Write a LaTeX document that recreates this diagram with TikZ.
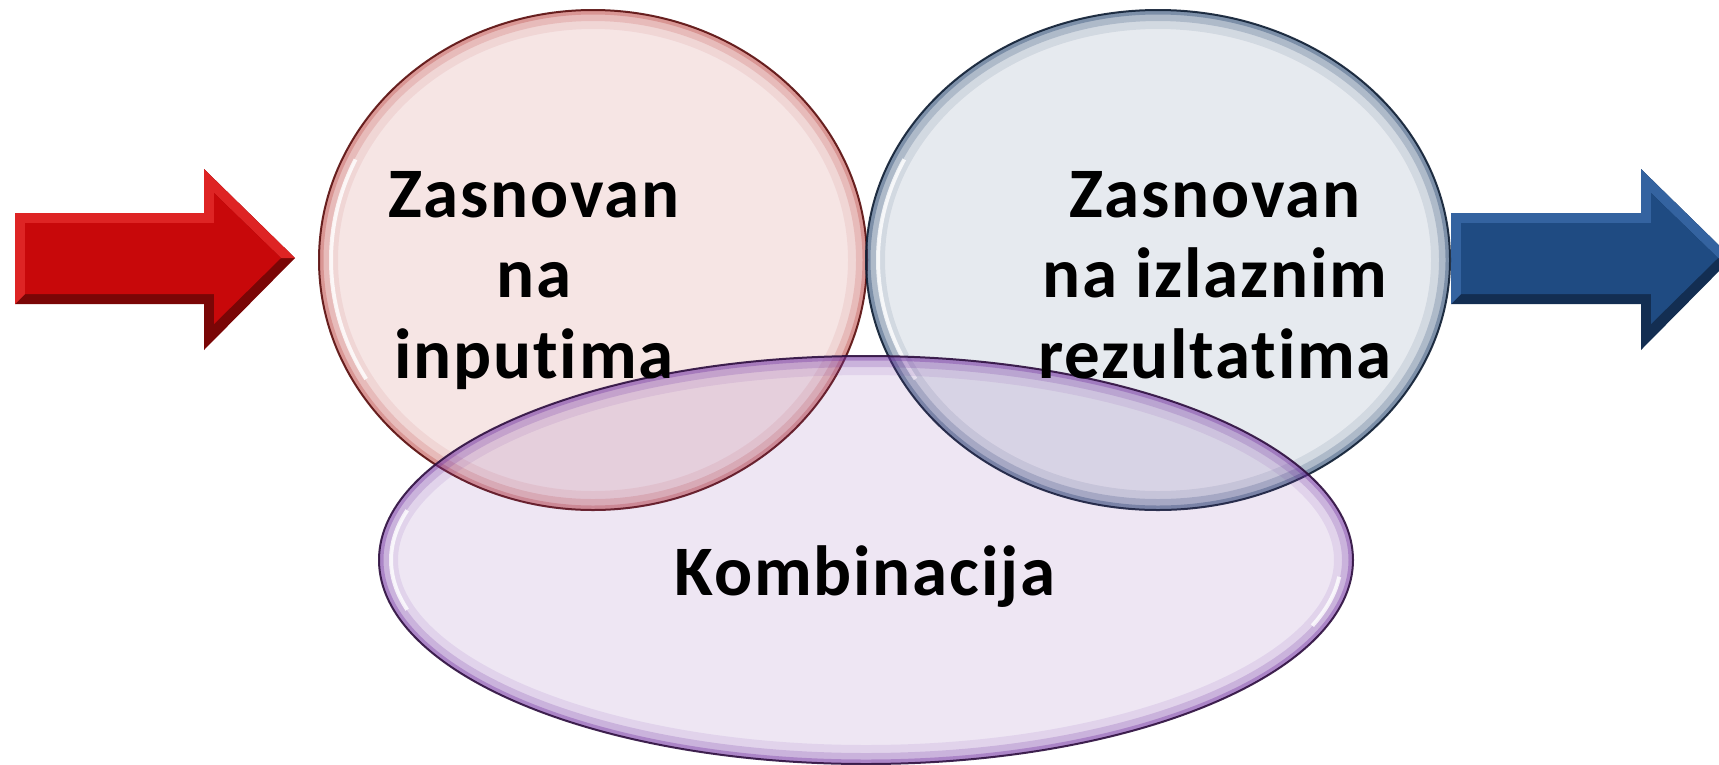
\documentclass[tikz,border=0pt]{standalone}
\usepackage{fontspec}
\setmainfont[Ligatures=NoCommon, LetterSpace=2.5]{Carlito}
\definecolor{redmain}{HTML}{C8080A}
\definecolor{redlight}{HTML}{DE2424}
\definecolor{reddark}{HTML}{7A0606}
\definecolor{bluemain}{HTML}{1F4B82}
\definecolor{bluelight}{HTML}{3463A0}
\definecolor{bluedark}{HTML}{132E52}
\definecolor{redring}{HTML}{C0504D}
\definecolor{redline}{HTML}{5A0E0E}
\definecolor{bluering}{HTML}{1F3F6A}
\definecolor{blueline}{HTML}{0F1E33}
\definecolor{purring}{HTML}{7030A0}
\definecolor{purline}{HTML}{2E0F3F}
\tikzset{
  lbl/.style={inner sep=0pt, align=center, font=\fontsize{71}{80.5}\selectfont\bfseries, text=black},
}
% #1 center, #2 rx, #3 ry, #4 ring colour, #5 fill opacity, #6 outline colour
\newcommand{\glassell}[6]{%
  \begin{scope}
    \clip #1 ellipse [x radius=#2, y radius=#3];
    \fill[#4, fill opacity=#5] #1 ellipse [x radius=#2, y radius=#3];
    \draw[#4, line width=38pt, draw opacity=.10] #1 ellipse [x radius=#2, y radius=#3];
    \draw[#4, line width=22pt, draw opacity=.20] #1 ellipse [x radius=#2, y radius=#3];
    \draw[#4, line width=9pt, draw opacity=.35] #1 ellipse [x radius=#2, y radius=#3];
  \end{scope}
  \draw[#6, line width=2pt, draw opacity=.9] #1 ellipse [x radius=#2, y radius=#3];
}
\begin{document}
\begin{tikzpicture}[x=1pt,y=-1pt]
\useasboundingbox (0,0) rectangle (1719,764);
\clip (0,0) rectangle (1719,764);

% red arrow
\fill[reddark] (15,213) -- (204,213) -- (204,169) -- (295,258) -- (204,350) -- (204,304) -- (15,304) -- cycle;
\fill[redlight] (15,304) -- (15,213) -- (204,213) -- (204,169) -- (295,258) -- (281,258) -- (214,193) -- (214,223) -- (25,223) -- (25,294) -- cycle;
\fill[redmain] (25,223) -- (214,223) -- (214,193) -- (281,258) -- (214,324) -- (214,294) -- (25,294) -- cycle;

% blue arrow
\fill[bluedark] (1451,213) -- (1641,213) -- (1641,169) -- (1732,258) -- (1641,350) -- (1641,304) -- (1451,304) -- cycle;
\fill[bluelight] (1451,304) -- (1451,213) -- (1641,213) -- (1641,169) -- (1732,258) -- (1718,258) -- (1651,193) -- (1651,223) -- (1461,223) -- (1461,294) -- cycle;
\fill[bluemain] (1461,223) -- (1651,223) -- (1651,193) -- (1718,258) -- (1651,324) -- (1651,294) -- (1461,294) -- cycle;

% circles
\glassell{(593,260)}{274}{250}{redring}{.15}{redline}
\draw[white, line width=4pt, draw opacity=.8] ([shift={(593,260)}]150:262 and 238) arc[start angle=150, end angle=205, x radius=262, y radius=238];
\glassell{(1158,260)}{292}{250}{bluering}{.11}{blueline}
\draw[white, line width=4pt, draw opacity=.8] ([shift={(1158,260)}]150:280 and 238) arc[start angle=150, end angle=205, x radius=280, y radius=238];
\glassell{(866,560)}{487}{204}{purring}{.12}{purline}
\draw[white, line width=4pt, draw opacity=.8] ([shift={(866,560)}]165:475 and 192) arc[start angle=165, end angle=195, x radius=475, y radius=192];
\draw[white, line width=4pt, draw opacity=.8] ([shift={(866,560)}]5:475 and 192) arc[start angle=5, end angle=20, x radius=475, y radius=192];

% labels
\node[lbl, anchor=north] (inp) at (534,171) {Zasnovan\\na\\inputima};
\node[lbl, anchor=north] (out) at (1215,171) {Zasnovan\\na izlaznim\\rezultatima};
\node[lbl, anchor=base] (komb) at (865,595) {Kombinacija};
\end{tikzpicture}
\end{document}
